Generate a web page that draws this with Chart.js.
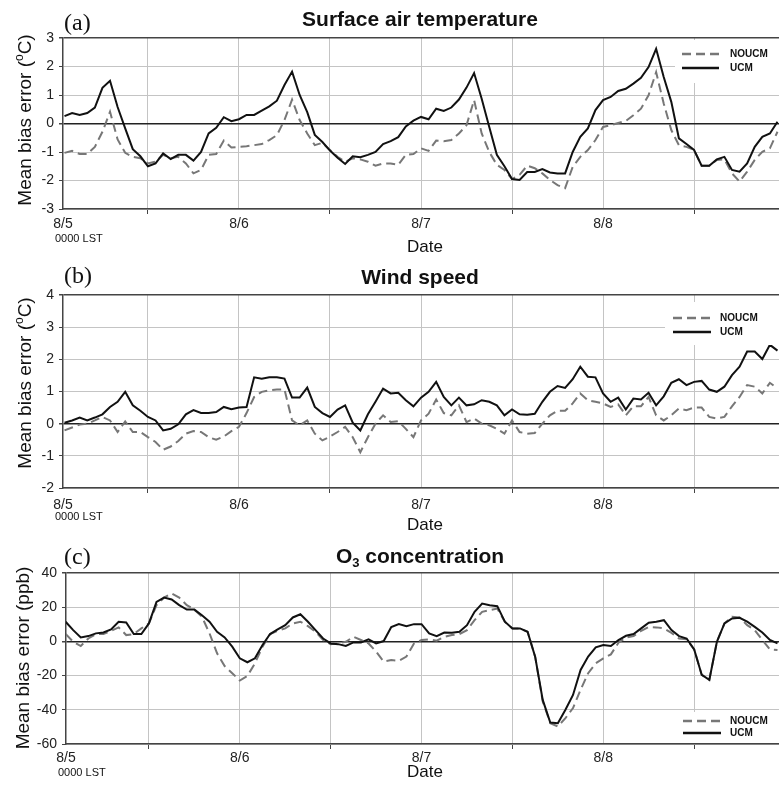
<!DOCTYPE html>
<html>
<head>
<meta charset="utf-8">
<script src="https://cdn.jsdelivr.net/npm/chart.js@4.4.1/dist/chart.umd.min.js"></script>
<style>
  html, body { margin: 0; padding: 0; background: #fff; overflow: hidden; }
  canvas { position: absolute; left: 0; }
</style>
</head>
<body>
<canvas id="tempChart" width="779" height="260" style="top:0px"></canvas>
<canvas id="windChart" width="779" height="280" style="top:255px"></canvas>
<canvas id="o3Chart" width="779" height="256" style="top:532px"></canvas>
<script>
// hours since 8/5 0000 LST
const hours = [1,2,3,4,5,6,7,8,9,10,11,12,13,14,15,16,17,18,19,20,21,22,23,24,
  25,26,27,28,29,30,31,32,33,34,35,36,37,38,39,40,41,42,43,44,45,46,47,48,
  49,50,51,52,53,54,55,56,57,58,59,60,61,62,63,64,65,66,67,68,69,70,71,72,
  73,74,75,76,77,78,79,80,81,82,83,84,85,86,87,88,89,90,91,92,93,94,95];

const seriesNames = ['NOUCM', 'UCM'];
const dateLabels = ['8/5', '8/6', '8/7', '8/8'];
const dateHours = [0, 24, 48, 72];
const gridHours = [12, 36, 60, 84];

// (a) surface air temperature, deg C
const tempNoucm = [-1.03,-0.96,-1.07,-1.07,-0.82,-0.29,0.41,-0.56,-1.03,-1.17,-1.22,-1.40,-1.34,-1.10,-1.22,-1.17,-1.40,-1.75,-1.63,-1.10,-1.07,-0.60,-0.84,-0.82,
  -0.80,-0.76,-0.72,-0.58,-0.41,0.12,0.84,0.12,-0.35,-0.76,-0.68,-0.93,-1.17,-1.34,-1.22,-1.26,-1.34,-1.48,-1.40,-1.40,-1.45,-1.10,-1.07,-0.87,
  -0.96,-0.60,-0.62,-0.58,-0.35,-0.06,0.82,-0.35,-1.00,-1.45,-1.63,-1.95,-1.80,-1.48,-1.57,-1.75,-1.98,-2.16,-2.27,-1.52,-1.17,-0.93,-0.58,-0.12,
  -0.06,0.02,0.09,0.29,0.52,0.99,1.80,0.70,-0.23,-0.76,-0.82,-0.93,-1.48,-1.48,-1.28,-1.26,-1.75,-2.04,-1.69,-1.28,-0.99,-0.87,-0.29];
const tempUcm = [0.26,0.37,0.30,0.37,0.56,1.25,1.50,0.58,-0.17,-0.90,-1.15,-1.50,-1.40,-1.05,-1.25,-1.10,-1.10,-1.30,-1.00,-0.35,-0.15,0.22,0.08,0.15,
  0.30,0.30,0.45,0.60,0.80,1.35,1.82,1.00,0.40,-0.40,-0.65,-0.95,-1.20,-1.42,-1.15,-1.18,-1.10,-1.00,-0.72,-0.62,-0.48,-0.10,0.10,0.23,
  0.15,0.52,0.44,0.56,0.84,1.26,1.77,0.87,-0.12,-1.10,-1.50,-1.95,-1.98,-1.70,-1.70,-1.60,-1.72,-1.75,-1.75,-1.00,-0.47,-0.17,0.47,0.82,
  0.93,1.14,1.22,1.40,1.60,1.98,2.62,1.63,0.76,-0.52,-0.72,-0.93,-1.48,-1.48,-1.26,-1.17,-1.63,-1.69,-1.40,-0.82,-0.47,-0.35,0.06];

// (b) wind speed
const windNoucm = [-0.21,-0.12,-0.03,0.00,0.10,0.21,0.10,-0.26,0.07,-0.26,-0.26,-0.42,-0.57,-0.81,-0.71,-0.54,-0.31,-0.23,-0.26,-0.42,-0.50,-0.40,-0.23,-0.10,
  0.33,0.83,0.99,1.04,1.06,1.07,0.10,-0.05,0.10,-0.31,-0.52,-0.40,-0.26,-0.10,-0.42,-0.89,-0.42,0.00,0.26,0.05,0.08,-0.16,-0.42,0.10,
  0.31,0.75,0.33,0.26,0.57,0.05,0.16,0.00,-0.05,-0.16,-0.31,0.10,-0.26,-0.31,-0.29,0.00,0.26,0.40,0.40,0.63,0.94,0.73,0.68,0.63,
  0.52,0.60,0.26,0.54,0.54,0.83,0.26,0.10,0.26,0.47,0.42,0.50,0.50,0.21,0.16,0.21,0.54,0.83,1.20,1.15,0.94,1.27,1.09];
const windUcm = [0.03,0.10,0.19,0.10,0.19,0.29,0.52,0.68,0.99,0.57,0.40,0.21,0.10,-0.21,-0.16,-0.02,0.29,0.42,0.33,0.33,0.36,0.52,0.45,0.50,
  0.52,1.44,1.40,1.44,1.44,1.40,0.81,0.81,1.12,0.52,0.33,0.21,0.44,0.57,0.03,-0.21,0.29,0.68,1.09,0.94,0.96,0.73,0.54,0.81,
  0.99,1.30,0.83,0.57,0.81,0.57,0.60,0.73,0.68,0.57,0.26,0.44,0.29,0.28,0.31,0.68,0.99,1.17,1.11,1.38,1.77,1.46,1.44,0.94,
  0.68,0.81,0.44,0.78,0.75,0.96,0.57,0.85,1.27,1.38,1.20,1.30,1.33,1.06,0.99,1.15,1.51,1.77,2.24,2.24,2.01,2.45,2.27];

// (c) O3 concentration, ppb
const o3Noucm = [4.3,-0.2,-2.7,1.7,4.3,4.3,6.2,8.2,3.7,4.3,7.6,10.5,21.2,25.6,28.0,25.6,21.2,18.6,14.4,4.7,-7.0,-14.4,-18.6,-22.9,
  -20.2,-12.8,-3.1,4.3,6.2,7.6,10.5,11.5,8.9,5.6,0.8,-1.6,-1.2,-0.2,2.7,0.8,-1.2,-6.0,-11.8,-10.9,-11.3,-8.9,-1.2,0.8,
  1.2,0.4,2.7,3.7,4.3,6.6,12.4,17.3,18.3,19.2,11.5,7.6,7.6,5.6,-8.9,-35.1,-47.8,-49.7,-44.9,-39.0,-28.3,-18.6,-12.8,-9.9,
  -7.6,-0.8,2.3,3.1,6.2,8.5,8.2,7.6,5.0,1.7,1.2,-4.7,-19.6,-22.5,-0.2,10.5,14.4,14.0,9.5,6.6,0.8,-4.7,-5.0];
const o3Ucm = [11.5,6.6,2.3,3.1,4.7,5.2,7.0,11.5,11.1,4.3,4.3,10.5,23.1,25.6,24.5,21.2,18.6,18.6,15.3,11.5,5.6,2.3,-3.1,-9.9,
  -12.2,-9.9,-2.1,4.3,7.0,9.5,14.0,15.9,11.5,6.6,1.7,-1.2,-1.6,-2.7,-0.6,-0.6,1.2,-1.2,0.2,8.4,10.1,8.9,10.1,10.1,
  4.7,3.1,5.2,5.0,5.6,9.5,17.3,22.1,21.2,20.6,11.5,7.6,7.6,5.6,-8.9,-34.2,-47.4,-47.8,-40.0,-31.3,-16.7,-8.9,-3.5,-2.1,
  -2.7,0.8,3.3,4.3,7.6,10.9,11.5,12.4,6.6,3.1,1.7,-4.7,-19.6,-22.5,-0.2,10.5,13.4,13.8,11.5,8.5,5.2,0.8,-1.2];

const FONT = '"Liberation Sans", Arial, Helvetica, sans-serif';
Chart.defaults.font.family = FONT;
Chart.defaults.color = '#222';

// text with sub/superscript pieces, centred on (cx, cy)
function drawRich(c, parts, cx, cy, size, weight) {
  const fontFor = p => `${weight} ${(p.sub || p.sup) ? Math.round(size * 0.62) : size}px ${FONT}`;
  let total = 0;
  parts.forEach(p => { c.font = fontFor(p); total += c.measureText(p.t).width; });
  let x = cx - total / 2;
  c.textAlign = 'left';
  c.textBaseline = 'middle';
  parts.forEach(p => {
    c.font = fontFor(p);
    const dy = p.sub ? size * 0.3 : p.sup ? -size * 0.32 : 0;
    c.fillText(p.t, x, cy + dy);
    x += c.measureText(p.t).width;
  });
}

// panel letter, title, axis titles and the boxed legend inside the plot
const decor = {
  id: 'decor',
  afterDraw(chart, args, o) {
    const c = chart.ctx;
    c.save();
    c.fillStyle = '#111';
    c.font = '24px "Liberation Serif", "Times New Roman", serif';
    c.textAlign = 'left';
    c.textBaseline = 'middle';
    c.fillText(o.letter, 64, o.letterY);

    drawRich(c, o.title, 420, o.titleY, 21, 'bold');
    drawRich(c, [{ t: 'Date' }], 425, o.dateY, 17, '');

    c.save();
    c.translate(o.yTitleX, o.yTitleY);
    c.rotate(-Math.PI / 2);
    drawRich(c, o.yTitle, 0, 0, 19, '');
    c.restore();

    c.font = '11px ' + FONT;
    c.textAlign = 'left';
    c.textBaseline = 'middle';
    c.fillText('0000 LST', o.lstX, o.lstY);

    const L = o.legend;
    c.fillStyle = '#fff';
    c.fillRect(L.x, L.y, L.w, L.h);
    chart.data.datasets.forEach((ds, i) => {
      const y = L.rows[i];
      c.strokeStyle = ds.borderColor;
      c.lineWidth = 2.5;
      c.setLineDash(ds.borderDash || []);
      c.beginPath();
      c.moveTo(L.x0, y);
      c.lineTo(L.x1, y);
      c.stroke();
      c.setLineDash([]);
      c.fillStyle = '#111';
      c.font = 'bold 10px ' + FONT;
      c.fillText(ds.label, L.tx, y);
    });
    c.restore();
  }
};

function panel(id, o) {
  new Chart(document.getElementById(id), {
    type: 'line',
    data: {
      labels: hours,
      datasets: [
        { label: seriesNames[0], data: o.noucm, borderColor: '#777', borderDash: [9, 5], borderWidth: 2, pointRadius: 0, order: 1 },
        { label: seriesNames[1], data: o.ucm, borderColor: '#111', borderWidth: 2, pointRadius: 0, order: 0 }
      ]
    },
    options: {
      responsive: false,
      animation: false,
      layout: { padding: { top: o.top, right: 0, left: 0, bottom: 0 } },
      plugins: { legend: { display: false }, tooltip: { enabled: false }, decor: o.decor },
      scales: {
        x: {
          type: 'linear',
          min: o.xMin,
          max: 95.2,
          afterBuildTicks: s => {
            s.ticks = [o.xMin, 12, 24, 36, 48, 60, 72, 84].map(v => ({ value: v }));
          },
          afterFit: s => { s.height = o.h - o.bottom; },
          ticks: {
            autoSkip: false, maxRotation: 0, padding: o.xPad,
            font: { size: 14 }, color: '#222',
            callback: v => {
              const i = v === o.xMin ? 0 : dateHours.indexOf(v);
              return i >= 0 ? dateLabels[i] : '';
            }
          },
          grid: {
            color: ctx => ctx.tick && ctx.tick.value === o.xMin ? 'rgba(0,0,0,0)' : '#c4c4c4',
            tickColor: ctx => ctx.tick && gridHours.includes(ctx.tick.value) ? '#444' : 'rgba(0,0,0,0)',
            tickLength: 5,
            lineWidth: 1
          },
          border: { color: '#444', width: 1.5 }
        },
        y: {
          min: o.yMin,
          max: o.yMax,
          afterFit: s => { s.width = o.left; },
          ticks: { stepSize: o.yStep, padding: 5, font: { size: 14 }, color: '#222' },
          grid: {
            color: ctx => ctx.tick.value === 0 ? '#222' : ctx.tick.value === o.yMax ? '#444' : '#c4c4c4',
            lineWidth: ctx => ctx.tick.value === 0 || ctx.tick.value === o.yMax ? 1.5 : 1,
            tickColor: '#444',
            tickLength: 4
          },
          border: { color: '#444', width: 1.5 }
        }
      }
    },
    plugins: [decor]
  });
}

const yTitleDeg = [{ t: 'Mean bias error (' }, { t: 'o', sup: true }, { t: 'C)' }];

panel('tempChart', {
  noucm: tempNoucm, ucm: tempUcm,
  h: 260, top: 38, bottom: 209, left: 63, xMin: 0.8, xPad: 2,
  yMin: -3, yMax: 3, yStep: 1,
  decor: {
    letter: '(a)', letterY: 24,
    title: [{ t: 'Surface air temperature' }], titleY: 20,
    yTitle: yTitleDeg, yTitleX: 26, yTitleY: 120,
    dateY: 247, lstX: 55, lstY: 239,
    legend: { x: 675, y: 40, w: 104, h: 43, rows: [54, 68], x0: 682, x1: 719, tx: 730 }
  }
});

panel('windChart', {
  noucm: windNoucm, ucm: windUcm,
  h: 280, top: 40, bottom: 233, left: 63, xMin: 0.8, xPad: 4,
  yMin: -2, yMax: 4, yStep: 1,
  decor: {
    letter: '(b)', letterY: 22,
    title: [{ t: 'Wind speed' }], titleY: 23,
    yTitle: yTitleDeg, yTitleX: 26, yTitleY: 128,
    dateY: 270, lstX: 55, lstY: 262,
    legend: { x: 665, y: 47, w: 114, h: 43, rows: [63, 77], x0: 673, x1: 711, tx: 720 }
  }
});

panel('o3Chart', {
  noucm: o3Noucm, ucm: o3Ucm,
  h: 256, top: 41, bottom: 212, left: 66, xMin: 1.05, xPad: 1,
  yMin: -60, yMax: 40, yStep: 20,
  decor: {
    letter: '(c)', letterY: 26,
    title: [{ t: 'O' }, { t: '3', sub: true }, { t: ' concentration' }], titleY: 25,
    yTitle: [{ t: 'Mean bias error (ppb)' }], yTitleX: 24, yTitleY: 126,
    dateY: 240, lstX: 58, lstY: 241,
    legend: { x: 670, y: 180, w: 109, h: 31, rows: [189, 201], x0: 683, x1: 721, tx: 730 }
  }
});
</script>
</body>
</html>
